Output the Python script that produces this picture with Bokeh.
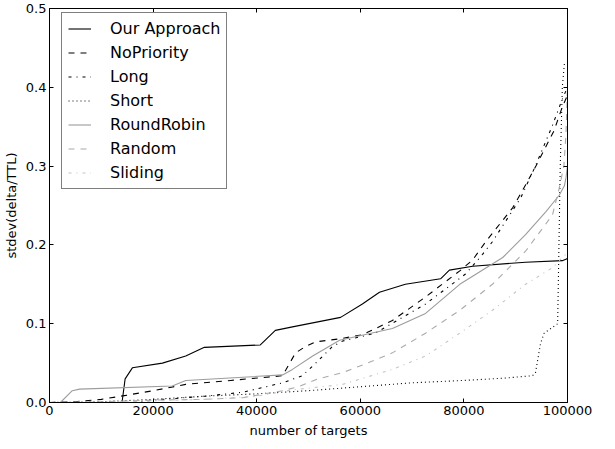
from bokeh.plotting import figure
from bokeh.models import (Range1d, FixedTicker, LinearAxis, Legend, LegendItem,
                          NumeralTickFormatter)
from bokeh.embed import file_html
from bokeh.resources import INLINE

# ---- data ----
our_x = [0, 14000, 14600, 16000, 21800, 26300, 29900, 40700, 43600, 46900, 56200,
         60400, 63700, 68700, 75500, 77200, 81700, 91900, 99000, 99800, 100000]
our_y = [0.0, 0.0, 0.03, 0.044, 0.050, 0.059, 0.070, 0.073, 0.0915, 0.096, 0.108,
         0.125, 0.140, 0.150, 0.157, 0.168, 0.173, 0.178, 0.180, 0.182, 0.183]

nop_x = [0, 5000, 10000, 14700, 20000, 26300, 35000, 45000, 47500, 49400, 51400,
         56200, 60400, 66200, 72600, 79200, 81700, 84200, 89400, 91900, 93900,
         97400, 99000, 100000]
nop_y = [0.0, 0.001, 0.004, 0.009, 0.015, 0.023, 0.028, 0.034, 0.063, 0.071, 0.077,
         0.081, 0.086, 0.104, 0.134, 0.167, 0.181, 0.204, 0.247, 0.276, 0.300,
         0.345, 0.375, 0.390]

long_x = [0, 16000, 19900, 30000, 37300, 45000, 48800, 51400, 54600, 56600, 62900,
          72600, 80300, 83600, 85500, 91000, 93800, 97000, 99000, 100000]
long_y = [0.0, 0.0, 0.003, 0.008, 0.013, 0.025, 0.034, 0.050, 0.071, 0.078, 0.088,
          0.125, 0.163, 0.188, 0.204, 0.260, 0.300, 0.350, 0.385, 0.400]

short_x = [0, 10000, 20000, 30000, 40000, 50000, 60000, 70000, 80000, 88000, 93200,
           93800, 94800, 95500, 98100, 98600, 99000, 99400, 100000]
short_y = [0.0, 0.001, 0.004, 0.008, 0.011, 0.015, 0.020, 0.025, 0.028, 0.031, 0.034,
           0.037, 0.075, 0.088, 0.100, 0.300, 0.400, 0.430, 0.430]

rr_x = [0, 2100, 4400, 5800, 23700, 26300, 45000, 46900, 50800, 56000, 66200,
        72600, 79200, 87500, 91900, 95800, 98400, 99400, 99700, 100000]
rr_y = [0.0, 0.0, 0.015, 0.017, 0.021, 0.028, 0.035, 0.042, 0.059, 0.079, 0.094,
        0.113, 0.150, 0.184, 0.213, 0.242, 0.263, 0.275, 0.285, 0.300]

rand_x = [0, 10000, 20000, 30000, 37300, 45000, 48000, 51400, 56600, 59800, 66200,
          72600, 79200, 85500, 91900, 97100, 98400, 99300, 99700, 100000]
rand_y = [0.0, 0.001, 0.003, 0.004, 0.006, 0.015, 0.020, 0.029, 0.038, 0.046, 0.063,
          0.088, 0.117, 0.150, 0.192, 0.238, 0.272, 0.300, 0.340, 0.400]

slide_x = [0, 10000, 20000, 30000, 40000, 46900, 56600, 66200, 72600, 79200, 85500,
           91900, 97100, 99000, 100000]
slide_y = [0.0, 0.0005, 0.002, 0.004, 0.008, 0.016, 0.023, 0.042, 0.059, 0.088, 0.117,
           0.150, 0.171, 0.184, 0.190]

series_names = ["Our Approach", "NoPriority", "Long", "Short",
                "RoundRobin", "Random", "Sliding"]

x_ticks = [0, 20000, 40000, 60000, 80000, 100000]
y_ticks = [0.0, 0.1, 0.2, 0.3, 0.4, 0.5]

FONT = "DejaVu Sans"
TOP = 8
BOTTOM = 38
HEIGHT = 440

p = figure(width=600, height=HEIGHT, output_backend="svg", toolbar_location=None,
           x_range=Range1d(0, 100000), y_range=Range1d(0, 0.5),
           min_border_left=49, min_border_right=33, min_border_top=TOP,
           min_border_bottom=BOTTOM)
p.xgrid.visible = False
p.ygrid.visible = False
p.outline_line_color = "black"
p.outline_line_width = 1
p.background_fill_color = "white"
p.border_fill_color = "white"

def style_axis(ax, show_labels=True):
    ax.major_tick_in = 4
    ax.major_tick_out = 0
    ax.minor_tick_in = 0
    ax.minor_tick_out = 0
    ax.axis_line_color = "black"
    ax.major_tick_line_color = "black"
    ax.major_label_text_font = FONT
    ax.major_label_text_font_size = "13px"
    ax.major_label_text_color = "black" if show_labels else None
    ax.axis_label_text_font = FONT
    ax.axis_label_text_font_size = "13px"
    ax.axis_label_text_font_style = "normal"
    ax.axis_label_text_color = "black"

xax = p.xaxis[0]
yax = p.yaxis[0]
xax.ticker = FixedTicker(ticks=x_ticks)
yax.ticker = FixedTicker(ticks=y_ticks)
xax.formatter = NumeralTickFormatter(format="0")
yax.formatter = NumeralTickFormatter(format="0.0")
style_axis(xax)
style_axis(yax)
xax.axis_label = "number of targets"
yax.axis_label = "stdev(delta/TTL)"
xax.major_label_standoff = 3
yax.major_label_standoff = 3
xax.axis_label_standoff = 5
yax.axis_label_standoff = 4

top_ax = LinearAxis(ticker=FixedTicker(ticks=x_ticks))
right_ax = LinearAxis(ticker=FixedTicker(ticks=y_ticks))
for ax in (top_ax, right_ax):
    style_axis(ax, show_labels=False)
    ax.major_label_text_font_size = "0px"
    ax.major_label_standoff = 0
p.add_layout(top_ax, "above")
p.add_layout(right_ax, "right")

specs = [
    (our_x, our_y, "black", "solid"),
    (nop_x, nop_y, "black", "6 6"),
    (long_x, long_y, "black", "3 5 1 5"),
    (short_x, short_y, "black", "1 3"),
    (rr_x, rr_y, "#9c9c9c", "solid"),
    (rand_x, rand_y, "#aaaaaa", "6 6"),
    (slide_x, slide_y, "#c4c4c4", "3 5 1 5"),
]

items = []
for (xs, ys, col, dash), name in zip(specs, series_names):
    r = p.line(xs, ys, line_color=col, line_width=1.1, line_dash=dash)
    items.append(LegendItem(label=name, renderers=[r]))

frame_h = HEIGHT - TOP - BOTTOM
leg_pad, leg_sp, leg_h = 6, 5, 19
leg_total_h = 2 * leg_pad + 7 * leg_h + 6 * leg_sp
legend = Legend(items=items, location=(12, frame_h - leg_total_h - 6))
legend.label_text_font = FONT
legend.label_text_font_size = "16px"
legend.label_text_color = "black"
legend.border_line_color = "black"
legend.border_line_width = 1
legend.background_fill_color = "white"
legend.background_fill_alpha = 1.0
legend.padding = leg_pad
legend.spacing = leg_sp
legend.margin = 0
legend.glyph_width = 23
legend.glyph_height = leg_h
legend.label_height = leg_h
legend.label_standoff = 19
p.add_layout(legend, "center")

open("out.html", "w").write(file_html(p, INLINE))
